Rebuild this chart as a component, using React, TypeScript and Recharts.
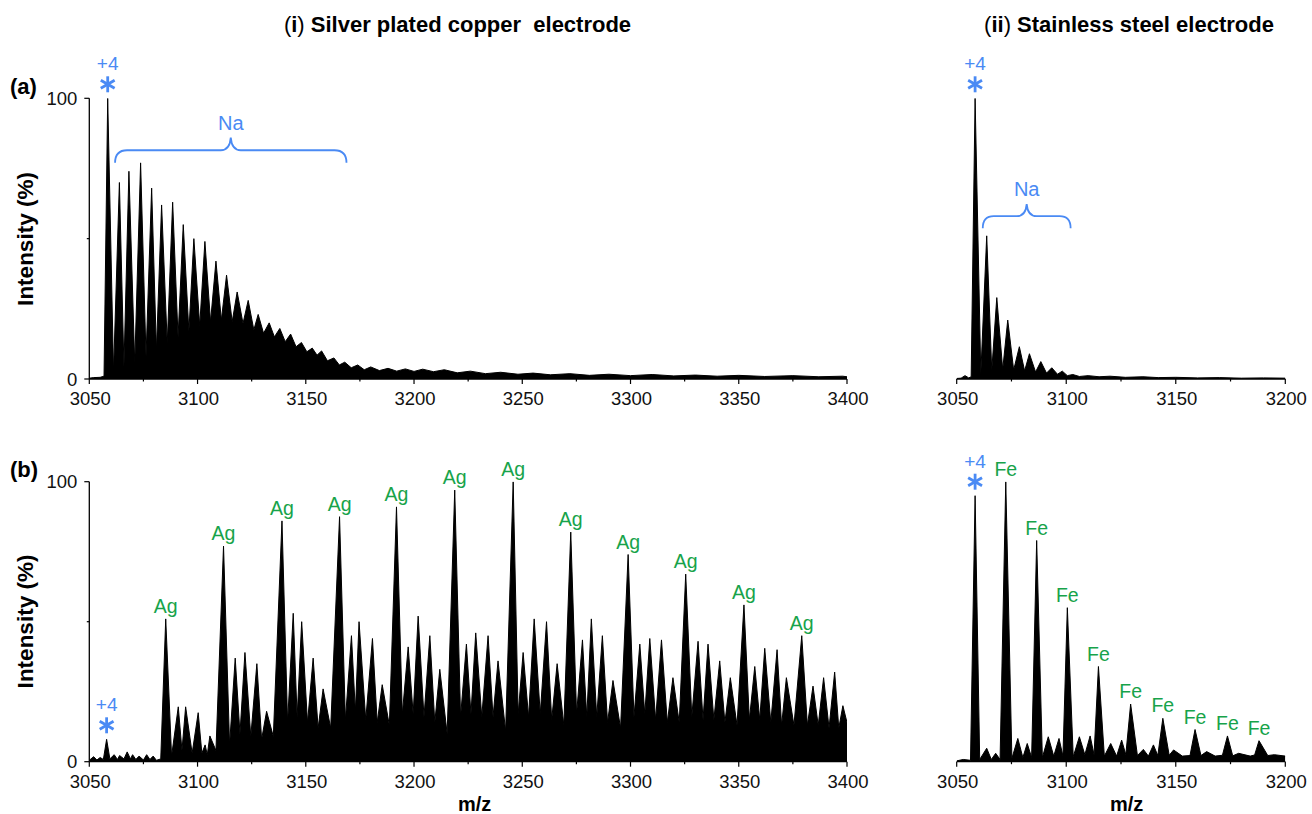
import React from 'react';
import { AreaChart, Area, XAxis, YAxis, ReferenceDot, ReferenceArea } from 'recharts';

const FONT = '"Liberation Sans", Arial, Helvetica, sans-serif';
const BLUE = '#4a8af4';
const GREEN = '#17a34a';

type Pt = [number, number];

// (a)(i) silver plated copper electrode: +4 ion followed by Na adduct series
const aSilverParent: Pt = [3058.5, 100];
const aSilverPeaks: Pt[] = [
  [3063.9, 70], [3068.3, 74], [3073.7, 77], [3078.8, 68], [3083.4, 62], [3088.5, 63],
  [3093.4, 55], [3098.3, 50], [3103.4, 49], [3108.5, 42], [3113.4, 37], [3118.3, 31],
  [3123.4, 28], [3128, 23], [3133.1, 20], [3138, 18], [3143, 16], [3148, 13],
  [3153, 11], [3157.3, 10], [3163, 7.5], [3168, 6], [3174, 5], [3180, 4.3],
  [3188, 3.8], [3196, 3.6], [3204, 3.5], [3214, 3.3], [3226, 2.8], [3240, 2.4],
  [3255, 2.1], [3272, 1.9], [3290, 1.7], [3310, 1.6], [3330, 1.4], [3350, 1.3],
  [3375, 1.2], [3398, 1],
];
const aSilverValleys: Pt[] = [
  [3050, 0.3], [3052, 0.5], [3055, 0.6], [3056.8, 1], [3061.2, 2.6], [3066, 4.4],
  [3071, 5.6], [3076.2, 8], [3081, 10.3], [3086, 12.7], [3091, 15], [3096, 17],
  [3101, 19], [3106, 20.4], [3111, 21], [3116, 20.4], [3121, 19.8], [3126, 17.5],
  [3130.5, 16.3], [3135.5, 15], [3140.5, 13.3], [3145.5, 11.5], [3150.5, 9.7], [3155.2, 8.5],
  [3160, 6.5], [3165.5, 5], [3171, 4], [3177, 3.3], [3184, 3], [3192, 2.8],
  [3200, 2.7], [3209, 2.6], [3220, 2.2], [3233, 1.9], [3248, 1.7], [3263, 1.5],
  [3281, 1.3], [3300, 1.2], [3320, 1.1], [3340, 1], [3362, 0.9], [3387, 0.8], [3400, 0.8],
];
const aSilverNa = { from: 3061.9, to: 3168.8, base: 77, tip: 86 };

// (a)(ii) stainless steel electrode
const aSteelParent: Pt = [3058.4, 100];
const aSteelPeaks: Pt[] = [
  [3053.8, 1.2], [3063.7, 51], [3068.3, 29], [3073.3, 21], [3078.6, 11.5], [3083.2, 9],
  [3088.4, 6.2], [3093.4, 4], [3098.2, 2.8], [3103, 1.6], [3110, 1.2], [3120, 1],
  [3135, 0.8], [3150, 0.6], [3170, 0.5], [3190, 0.4],
];
const aSteelValleys: Pt[] = [
  [3050, 0.2], [3052, 0.3], [3055.5, 0.4], [3056.6, 0.8], [3061, 1.8], [3066, 3],
  [3071, 3.4], [3076, 3.2], [3081, 2.9], [3086, 2.5], [3091, 2.1], [3096, 1.7],
  [3100.5, 1.2], [3106, 0.9], [3115, 0.8], [3127, 0.6], [3142, 0.5], [3160, 0.4],
  [3180, 0.3], [3200, 0.3],
];
const aSteelNa = { from: 3061.9, to: 3102, base: 53.7, tip: 62.3 };

// (b)(i) silver plated copper electrode: Ag adducts
const bSilverParent: Pt = [3058, 8];
const bSilverAgPeaks: Pt[] = [
  [3085.3, 51], [3112, 77], [3139, 86], [3165.6, 87.5], [3191.9, 91], [3218.8, 97],
  [3245.8, 100], [3272.4, 82], [3298.9, 74], [3325.5, 67], [3352.4, 56], [3379.1, 45],
];
const bSilverPeaks: Pt[] = [
  [3052, 1.8], [3055, 1.5], [3061.5, 2.5], [3064, 2.2], [3067.5, 3.5], [3070, 2.5],
  [3073, 2], [3076.5, 2.5], [3079.5, 2], [3091.1, 19.6], [3094.5, 19.6], [3100.3, 17.5],
  [3103.5, 6], [3105.7, 9.2], [3117.4, 37], [3121.9, 39], [3127.4, 35], [3131.9, 18],
  [3144.2, 53], [3148.1, 50], [3153.4, 37], [3158, 26], [3171.1, 45], [3174.6, 50],
  [3180.8, 44], [3185.3, 27.5], [3197.3, 41], [3201.9, 52], [3207.3, 45], [3211.9, 33],
  [3224.2, 42], [3228.5, 46], [3234.2, 45], [3238.8, 36], [3250.4, 39], [3255.5, 51],
  [3261.2, 50], [3266.1, 35], [3277.8, 43.5], [3281.9, 51], [3287, 45], [3291.9, 29],
  [3304.3, 42], [3308.9, 44], [3314.3, 43.5], [3319.6, 30], [3331.2, 43], [3335.8, 42],
  [3341.2, 36], [3346.1, 30], [3357.4, 34], [3362, 40.5], [3367.7, 40], [3372, 30],
  [3384.3, 27], [3389.2, 30], [3394.3, 32], [3398.1, 20],
];
const bSilverValleys: Pt[] = [
  [3050, 0.5], [3053.5, 0.6], [3056.5, 0.8], [3059.5, 1], [3063, 0.8], [3066, 1],
  [3069, 1], [3071.5, 0.8], [3075, 0.6], [3078, 0.8], [3081, 0.5], [3083, 1],
  [3088, 2], [3092.8, 4], [3097.5, 3], [3102, 3], [3104.5, 2.5], [3108.5, 4],
  [3114.8, 6], [3119.6, 10], [3124.6, 9], [3129.6, 8], [3135, 9], [3141.6, 14],
  [3146, 16], [3150.8, 14], [3155.7, 12], [3161.5, 12], [3168.3, 15], [3172.9, 18],
  [3177.7, 15], [3183, 14], [3188.6, 13], [3194.6, 17], [3199.6, 17], [3204.6, 16],
  [3209.6, 14], [3215.3, 10], [3221.5, 16], [3226.3, 17], [3231.3, 16], [3236.5, 16],
  [3242.3, 11], [3248.1, 17], [3252.9, 16], [3258.3, 17], [3263.6, 15], [3269.2, 13],
  [3275.1, 17], [3279.8, 16], [3284.4, 16], [3289.4, 14], [3295.4, 12], [3301.6, 16],
  [3306.6, 17], [3311.6, 15], [3317, 14], [3322.5, 14], [3328.3, 16], [3333.5, 15],
  [3338.5, 15], [3343.6, 14], [3349.2, 13], [3354.9, 15], [3359.7, 15], [3364.8, 14],
  [3369.8, 13], [3375.5, 13], [3381.7, 13], [3386.7, 13], [3391.7, 12], [3396.2, 12],
  [3400, 14],
];

// (b)(ii) stainless steel electrode: Fe adducts
const bSteelParent: Pt = [3058.4, 95];
const bSteelFePeaks: Pt[] = [
  [3072.4, 100], [3086.5, 79], [3100.5, 55], [3114.7, 34], [3129.4, 20.6],
  [3144.1, 15.5], [3158.8, 11.5], [3173.6, 9.2], [3188, 7.5],
];
const bSteelPeaks: Pt[] = [
  [3053, 0.8], [3063.7, 4.8], [3067.8, 3], [3077.9, 8.3], [3082.2, 6.5], [3091.8, 8.9],
  [3096.7, 8.3], [3106, 8.9], [3110.9, 9.2], [3120.3, 6.5], [3125.3, 7.7], [3135.2, 4.4],
  [3139.8, 6], [3149, 4.2], [3164.1, 3.6], [3178.7, 3], [3195, 2.5],
];
const bSteelValleys: Pt[] = [
  [3050, 0.3], [3056.3, 0.5], [3060.5, 0.8], [3065.8, 0.8], [3069.8, 0.8], [3075.2, 1.2],
  [3080.2, 1.5], [3084.2, 1.5], [3089.1, 1.5], [3094.3, 2], [3098.5, 2], [3103.2, 1.8],
  [3108.5, 2.5], [3112.7, 2.5], [3117.4, 2], [3123, 2], [3127.2, 2.5], [3132.5, 2.2],
  [3137.5, 2], [3141.8, 2.2], [3147, 2.3], [3153, 2], [3156.5, 2.2], [3161.5, 2.2],
  [3168, 2], [3171.3, 2.3], [3176, 2.1], [3184, 2], [3186, 2.4], [3192, 2.2], [3200, 2],
];

const wideTicks = [3050, 3075, 3100, 3125, 3150, 3175, 3200, 3225, 3250, 3275, 3300, 3325, 3350, 3375, 3400];
const narrowTicks = [3050, 3075, 3100, 3125, 3150, 3175, 3200];
const intensityTicks = [0, 50, 100];

const toTrace = (...parts: Pt[][]) =>
  parts.flat().sort((p, q) => p[0] - q[0]).map(([mz, v]) => ({ mz, v }));

const X_TICK = 5;
const X_MARGIN = 8;
const Y_TICK = 5;
const Y_MARGIN = 7;

const XTick = (props: any) => {
  const { x, y, payload } = props;
  const axisY = y - X_TICK - X_MARGIN;
  const major = payload.value % 50 === 0;
  return (
    <g>
      <line x1={x} x2={x} y1={axisY} y2={axisY + (major ? 5 : 2.5)} stroke="#000" strokeWidth={1.2} />
      {major && (
        <text x={x + 1} y={y} dy="0.71em" textAnchor="middle" fontSize={18.5} fontFamily={FONT} fill="#111">
          {payload.value}
        </text>
      )}
    </g>
  );
};

const YTick = (props: any) => {
  const { x, y, payload } = props;
  const axisX = x + Y_TICK + Y_MARGIN;
  const major = payload.value !== 50;
  return (
    <g>
      <line x1={axisX} x2={axisX - (major ? 5 : 2.5)} y1={y} y2={y} stroke="#000" strokeWidth={1.2} />
      {major && (
        <text x={x} y={y} dy="0.355em" textAnchor="end" fontSize={18.5} fontFamily={FONT} fill="#111">
          {payload.value}
        </text>
      )}
    </g>
  );
};

// "+4" charge state with asterisk above the parent peak
const chargeMark = (key: string, p: Pt) => (
  <ReferenceDot
    key={key}
    x={p[0]}
    y={p[1]}
    r={1}
    shape={(s: any) => {
      const cx = s.cx;
      const cy = s.cy - 14;
      const arm = 8;
      return (
        <g>
          <text x={s.cx} y={s.cy - 28} textAnchor="middle" fontSize={19} fontFamily={FONT} fill={BLUE}>+4</text>
          <g stroke={BLUE} strokeWidth={2.8} strokeLinecap="butt">
            <line x1={cx} x2={cx} y1={cy - arm} y2={cy + arm} />
            <line x1={cx - arm * 0.866} x2={cx + arm * 0.866} y1={cy - arm / 2} y2={cy + arm / 2} />
            <line x1={cx - arm * 0.866} x2={cx + arm * 0.866} y1={cy + arm / 2} y2={cy - arm / 2} />
          </g>
        </g>
      );
    }}
  />
);

const peakLabels = (prefix: string, peaks: Pt[], text: string) =>
  peaks.map((p, i) => (
    <ReferenceDot
      key={`${prefix}${i}`}
      x={p[0]}
      y={p[1]}
      r={1}
      shape={(s: any) => (
        <text x={s.cx} y={s.cy - 6} textAnchor="middle" fontSize={19.5} fontFamily={FONT} fill={GREEN}>
          {text}
        </text>
      )}
    />
  ));

const naBrace = (key: string, b: { from: number; to: number; base: number; tip: number }) => (
  <ReferenceArea
    key={key}
    x1={b.from}
    x2={b.to}
    y1={b.base}
    y2={b.tip}
    shape={(s: any) => {
      const { x, y, width, height } = s;
      const yBot = y + height;
      const yMid = y + height / 2;
      const xm = x + width / 2;
      const r = Math.min(12, width / 8);
      const d = `M${x},${yBot} Q${x},${yMid} ${x + r},${yMid} L${xm - 10},${yMid} Q${xm - 1},${yMid} ${xm},${y} Q${xm + 1},${yMid} ${xm + 10},${yMid} L${x + width - r},${yMid} Q${x + width},${yMid} ${x + width},${yBot}`;
      return (
        <g>
          <path d={d} fill="none" stroke={BLUE} strokeWidth={1.8} />
          <text x={xm} y={y - 8} textAnchor="middle" fontSize={20} fontFamily={FONT} fill={BLUE}>Na</text>
        </g>
      );
    }}
  />
);

interface PanelProps {
  left: number;
  top: number;
  width: number;
  height: number;
  margin: { top: number; right: number; bottom: number; left: number };
  data: { mz: number; v: number }[];
  xMax: number;
  ticks: number[];
  showY: boolean;
  children?: React.ReactNode;
}

const Panel = ({ left, top, width, height, margin, data, xMax, ticks, showY, children }: PanelProps) => (
  <div style={{ position: 'absolute', left, top }}>
    <AreaChart width={width} height={height} data={data} margin={margin}>
      <XAxis
        dataKey="mz"
        type="number"
        domain={[3050, xMax]}
        ticks={ticks}
        interval={0}
        allowDataOverflow
        height={30}
        tickSize={X_TICK}
        tickMargin={X_MARGIN}
        tickLine={false}
        tick={<XTick />}
        axisLine={{ stroke: '#000', strokeWidth: 1.3 }}
      />
      <YAxis
        type="number"
        domain={[0, 100]}
        ticks={intensityTicks}
        interval={0}
        allowDataOverflow
        hide={!showY}
        width={60}
        tickSize={Y_TICK}
        tickMargin={Y_MARGIN}
        tickLine={false}
        tick={<YTick />}
        axisLine={{ stroke: '#000', strokeWidth: 1.3 }}
      />
      <Area
        type="linear"
        dataKey="v"
        stroke="#000"
        strokeWidth={1}
        fill="#000"
        fillOpacity={1}
        dot={false}
        activeDot={false}
        isAnimationActive={false}
      />
      {children}
    </AreaChart>
  </div>
);

const App = () => {
  const aSilver = toTrace([aSilverParent], aSilverPeaks, aSilverValleys);
  const aSteel = toTrace([aSteelParent], aSteelPeaks, aSteelValleys);
  const bSilver = toTrace([bSilverParent], bSilverAgPeaks, bSilverPeaks, bSilverValleys);
  const bSteel = toTrace([bSteelParent], bSteelFePeaks, bSteelPeaks, bSteelValleys);

  const txt = { fontFamily: FONT, fill: '#000' };

  return (
    <div style={{ position: 'absolute', left: 0, top: 0, width: 1312, height: 814, background: '#fff', fontFamily: FONT }}>
      <Panel left={0} top={0} width={880} height={420}
        margin={{ top: 98.3, right: 33, bottom: 11, left: 29.3 }}
        data={aSilver} xMax={3400} ticks={wideTicks} showY>
        {naBrace('na1', aSilverNa)}
        {chargeMark('c1', aSilverParent)}
      </Panel>
      <Panel left={880} top={0} width={432} height={420}
        margin={{ top: 98.3, right: 26.7, bottom: 11, left: 76.7 }}
        data={aSteel} xMax={3200} ticks={narrowTicks} showY={false}>
        {naBrace('na2', aSteelNa)}
        {chargeMark('c2', aSteelParent)}
      </Panel>
      <Panel left={0} top={400} width={880} height={414}
        margin={{ top: 81.7, right: 33, bottom: 22.3, left: 29.3 }}
        data={bSilver} xMax={3400} ticks={wideTicks} showY>
        {peakLabels('ag', bSilverAgPeaks, 'Ag')}
        {chargeMark('c3', bSilverParent)}
      </Panel>
      <Panel left={880} top={400} width={432} height={414}
        margin={{ top: 81.7, right: 26.7, bottom: 22.3, left: 76.7 }}
        data={bSteel} xMax={3200} ticks={narrowTicks} showY={false}>
        {peakLabels('fe', bSteelFePeaks, 'Fe')}
        {chargeMark('c4', bSteelParent)}
      </Panel>

      <svg width={1312} height={814} style={{ position: 'absolute', left: 0, top: 0, pointerEvents: 'none' }}>
        <text x={457.5} y={32} textAnchor="middle" fontSize={22} style={{ whiteSpace: 'pre' }} {...txt}>
          <tspan>(</tspan>
          <tspan fontWeight="bold">i</tspan>
          <tspan>)</tspan>
          <tspan fontWeight="bold">{' Silver plated copper  electrode'}</tspan>
        </text>
        <text x={1129} y={32} textAnchor="middle" fontSize={22} style={{ whiteSpace: 'pre' }} {...txt}>
          <tspan>(</tspan>
          <tspan fontWeight="bold">ii</tspan>
          <tspan>)</tspan>
          <tspan fontWeight="bold">{' Stainless steel electrode'}</tspan>
        </text>
        <text x={10} y={94} fontSize={22} fontWeight="bold" {...txt}>(a)</text>
        <text x={10} y={477} fontSize={22} fontWeight="bold" {...txt}>(b)</text>
        <text transform="translate(33,239) rotate(-90)" textAnchor="middle" fontSize={22.5} fontWeight="bold" {...txt}>Intensity (%)</text>
        <text transform="translate(33,621.5) rotate(-90)" textAnchor="middle" fontSize={22.5} fontWeight="bold" {...txt}>Intensity (%)</text>
        <text x={474.7} y={811} textAnchor="middle" fontSize={20} fontWeight="bold" {...txt}>m/z</text>
        <text x={1126.7} y={811} textAnchor="middle" fontSize={20} fontWeight="bold" {...txt}>m/z</text>
      </svg>
    </div>
  );
};

export default App;
